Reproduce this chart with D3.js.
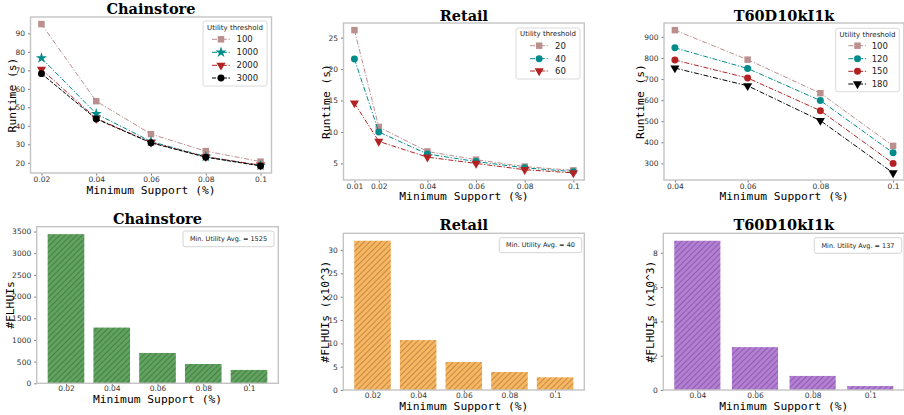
<!DOCTYPE html>
<html>
<head>
<meta charset="utf-8">
<script src="https://cdn.jsdelivr.net/npm/d3@7"></script>
<style>
  body { margin: 0; background: #fff; }
  svg { display: block; }
  .tick text { font-family: "DejaVu Sans"; font-size: 7.5px; fill: #333; }
  .tick line { stroke: #555; stroke-width: 0.8; }
  .title { font-family: "DejaVu Serif"; font-weight: bold; font-size: 14.5px; fill: #000; }
  .axlab { font-family: "DejaVu Sans Mono"; font-size: 11.3px; fill: #000; }
  .legtitle { font-family: "DejaVu Sans"; font-size: 7px; fill: #222; }
  .legtext { font-family: "DejaVu Sans"; font-size: 8.5px; fill: #222; }
  .bartext { font-family: "DejaVu Sans"; font-size: 6.5px; fill: #222; }
</style>
</head>
<body>
<svg id="chart" width="904" height="415"></svg>
<script>
// ---- data ----
// runtime (s) vs minimum support (%)
var chainSupport = [0.02, 0.04, 0.06, 0.08, 0.1];
var chainThresholds = ["100", "1000", "2000", "3000"];
var chainRuntime100 = [95.0, 53.3, 35.5, 26.3, 20.6];
var chainRuntime1000 = [76.6, 46.5, 31.5, 23.3, 18.5];
var chainRuntime2000 = [70.5, 44.0, 31.0, 23.2, 18.7];
var chainRuntime3000 = [68.2, 43.7, 30.8, 23.0, 18.3];

var retailSupport = [0.01, 0.02, 0.04, 0.06, 0.08, 0.1];
var retailThresholds = ["20", "40", "60"];
var retailRuntime20 = [26.2, 10.8, 6.9, 5.6, 4.5, 3.9];
var retailRuntime40 = [21.6, 10.0, 6.5, 5.3, 4.3, 3.7];
var retailRuntime60 = [14.6, 8.5, 6.0, 5.0, 4.0, 3.5];

var tSupport = [0.04, 0.06, 0.08, 0.1];
var tThresholds = ["100", "120", "150", "180"];
var tRuntime100 = [932, 792, 633, 383];
var tRuntime120 = [848, 750, 598, 350];
var tRuntime150 = [790, 705, 550, 300];
var tRuntime180 = [752, 668, 503, 255];

// #FLHUIs per minimum support
var chainBarLabels = ["0.02", "0.04", "0.06", "0.08", "0.1"];
var chainFlhuis = [3440, 1285, 700, 445, 308];
var retailBarLabels = ["0.02", "0.04", "0.06", "0.08", "0.1"];
var retailFlhuis = [32.0, 10.7, 6.0, 3.86, 2.72];
var tBarLabels = ["0.04", "0.06", "0.08", "0.1"];
var tFlhuis = [8.7, 2.5, 0.82, 0.23];

var chainYTicks = [20, 30, 40, 50, 60, 70, 80, 90];
var retailYTicks = [5, 10, 15, 20, 25];
var tYTicks = [300, 400, 500, 600, 700, 800, 900];
var chainBarTicks = [0, 500, 1000, 1500, 2000, 2500, 3000, 3500];
var retailBarTicks = [0, 5, 10, 15, 20, 25, 30];
var tBarTicks = [0, 2, 4, 6, 8];

// ---- styles ----
var ROSY = "#bc8f8f", TEAL = "#008b8b", RED = "#b22222", BLACK = "#000000";
var DASHDOT = "5,1.8,1.2,1.8";

var svg = d3.select("#chart");

var defs = svg.append("defs");
function hatch(id) {
  var p = defs.append("pattern")
    .attr("id", id)
    .attr("patternUnits", "userSpaceOnUse")
    .attr("width", 4).attr("height", 4)
    .attr("patternTransform", "rotate(45)");
  p.append("line")
    .attr("x1", 0).attr("y1", 0).attr("x2", 0).attr("y2", 4)
    .attr("stroke", "rgba(0,0,0,0.62)")
    .attr("stroke-width", 0.75);
}
hatch("hatch");

function padDomain(vals) {
  var ext = d3.extent(vals);
  var m = (ext[1] - ext[0]) * 0.05;
  return [ext[0] - m, ext[1] + m];
}

function symbolFor(name) {
  return {
    square: d3.symbol().type(d3.symbolSquare).size(42),
    star: d3.symbol().type(d3.symbolStar).size(38),
    circle: d3.symbol().type(d3.symbolCircle).size(38),
    tri: d3.symbol().type(d3.symbolTriangle).size(36)
  }[name];
}

function drawMarker(g, name, color, x, y) {
  g.append("path")
    .attr("d", symbolFor(name)())
    .attr("fill", color)
    .attr("transform", "translate(" + x + "," + y + ")" + (name == "tri" ? " rotate(180)" : ""));
}

function frame(g, box) {
  g.append("rect")
    .attr("x", box.l).attr("y", box.t)
    .attr("width", box.r - box.l).attr("height", box.b - box.t)
    .attr("fill", "none")
    .attr("stroke", "#c4c4c4")
    .attr("stroke-width", 1.4);
}

function labels(g, box, cfg) {
  var cx = (box.l + box.r) / 2;
  g.append("text").attr("class", "title")
    .attr("x", cx).attr("y", cfg.titleY)
    .attr("text-anchor", "middle").text(cfg.title);
  g.append("text").attr("class", "axlab")
    .attr("x", cx).attr("y", cfg.xTitleY)
    .attr("text-anchor", "middle").text("Minimum Support (%)");
  g.append("text").attr("class", "axlab")
    .attr("transform", "translate(" + cfg.yLabelX + "," + (box.t + box.b) / 2 + ") rotate(-90)")
    .attr("text-anchor", "middle").text(cfg.yLabel);
}

function styleAxis(sel) {
  sel.select(".domain").remove();
}

// ---- line chart ----
function drawLine(cfg) {
  var box = cfg.box;
  var g = svg.append("g");

  var allY = [];
  cfg.series.forEach(function(s) { allY = allY.concat(s.values); });

  var x = d3.scaleLinear().domain(padDomain(cfg.support)).range([box.l, box.r]);
  var y = d3.scaleLinear().domain(padDomain(allY)).range([box.b, box.t]);

  g.append("g").attr("transform", "translate(0," + box.b + ")")
    .call(d3.axisBottom(x).tickValues(cfg.xTicks).tickFormat(d3.format("")).tickSize(2.5).tickPadding(1))
    .call(styleAxis);
  g.append("g").attr("transform", "translate(" + box.l + ",0)")
    .call(d3.axisLeft(y).tickValues(cfg.yTicks).tickFormat(d3.format("d")).tickSize(2.5).tickPadding(3))
    .call(styleAxis);

  var line = d3.line()
    .x(function(d) { return x(d[0]); })
    .y(function(d) { return y(d[1]); });

  cfg.series.forEach(function(s) {
    var pts = cfg.support.map(function(v, i) { return [v, s.values[i]]; });
    g.append("path")
      .attr("d", line(pts))
      .attr("fill", "none")
      .attr("stroke", s.color)
      .attr("stroke-width", 1)
      .attr("stroke-dasharray", s.dash || DASHDOT);
    pts.forEach(function(p) { drawMarker(g, s.marker, s.color, x(p[0]), y(p[1])); });
  });

  frame(g, box);
  labels(g, box, cfg);

  // legend
  var L = cfg.legend;
  g.append("rect")
    .attr("x", L.x0).attr("y", L.y0)
    .attr("width", L.x1 - L.x0).attr("height", L.y1 - L.y0)
    .attr("rx", 2)
    .attr("fill", "rgba(255,255,255,0.85)")
    .attr("stroke", "#d0d0d0").attr("stroke-width", 0.8);
  g.append("text").attr("class", "legtitle")
    .attr("x", (L.x0 + L.x1) / 2).attr("y", L.titleY)
    .attr("text-anchor", "middle").text("Utility threshold");
  cfg.series.forEach(function(s, i) {
    var yy = L.rows[i];
    g.append("line")
      .attr("x1", L.lx0).attr("x2", L.lx1).attr("y1", yy).attr("y2", yy)
      .attr("stroke", s.color).attr("stroke-width", 1)
      .attr("stroke-dasharray", s.dash || DASHDOT);
    drawMarker(g, s.marker, s.color, (L.lx0 + L.lx1) / 2, yy);
    g.append("text").attr("class", "legtext")
      .attr("x", L.tx).attr("y", yy).attr("dy", "0.35em").text(s.name);
  });
}

// ---- bar chart ----
function drawBar(cfg) {
  var box = cfg.box;
  var g = svg.append("g");
  var n = cfg.cats.length;

  // categorical positions 0..n-1, bar width 0.8, 5% margins like matplotlib
  var x = d3.scaleLinear().domain(padDomain([-0.4, n - 1 + 0.4])).range([box.l, box.r]);
  var y = d3.scaleLinear().domain([0, d3.max(cfg.values) * 1.05]).range([box.b, box.t]);

  g.append("g").attr("transform", "translate(0," + box.b + ")")
    .call(d3.axisBottom(x).tickValues(d3.range(n)).tickFormat(function(i) { return cfg.cats[i]; })
      .tickSize(2.5).tickPadding(0))
    .call(styleAxis);
  g.append("g").attr("transform", "translate(" + box.l + ",0)")
    .call(d3.axisLeft(y).tickValues(cfg.yTicks).tickFormat(d3.format("d")).tickSize(2.5).tickPadding(3))
    .call(styleAxis);

  var bars = g.selectAll("g.bar").data(cfg.values).enter().append("g").attr("class", "bar");
  bars.append("rect")
    .attr("x", function(d, i) { return x(i - 0.4); })
    .attr("width", function(d, i) { return x(i + 0.4) - x(i - 0.4); })
    .attr("y", function(d) { return y(d); })
    .attr("height", function(d) { return y(0) - y(d); })
    .attr("fill", cfg.color);
  bars.append("rect")
    .attr("x", function(d, i) { return x(i - 0.4); })
    .attr("width", function(d, i) { return x(i + 0.4) - x(i - 0.4); })
    .attr("y", function(d) { return y(d); })
    .attr("height", function(d) { return y(0) - y(d); })
    .attr("fill", "url(#hatch)");

  frame(g, box);
  labels(g, box, cfg);

  var L = cfg.legend;
  g.append("rect")
    .attr("x", L.x0).attr("y", L.y0)
    .attr("width", L.x1 - L.x0).attr("height", L.y1 - L.y0)
    .attr("rx", 2)
    .attr("fill", "rgba(255,255,255,0.85)")
    .attr("stroke", "#c8c8c8").attr("stroke-width", 0.8);
  g.append("text").attr("class", "bartext")
    .attr("x", (L.x0 + L.x1) / 2).attr("y", (L.y0 + L.y1) / 2).attr("dy", "0.35em")
    .attr("text-anchor", "middle").text(L.text);
}

// ---- top row ----
drawLine({
  title: "Chainstore", titleY: 14, xTitleY: 194, yLabelX: 16, yLabel: "Runtime (s)",
  box: { l: 30.5, r: 271.5, t: 17, b: 173 },
  support: chainSupport, xTicks: chainSupport, yTicks: chainYTicks,
  series: [
    { name: chainThresholds[0], values: chainRuntime100, color: ROSY, marker: "square" },
    { name: chainThresholds[1], values: chainRuntime1000, color: TEAL, marker: "star" },
    { name: chainThresholds[2], values: chainRuntime2000, color: RED, marker: "tri" },
    { name: chainThresholds[3], values: chainRuntime3000, color: BLACK, marker: "circle", dash: "4,1.5" }
  ],
  legend: { x0: 203, y0: 21, x1: 267, y1: 86, titleY: 29.5, rows: [39.3, 52.3, 65.3, 78],
            lx0: 212, lx1: 230, tx: 236.5 }
});

drawLine({
  title: "Retail", titleY: 20.5, xTitleY: 200, yLabelX: 330, yLabel: "Runtime (s)",
  box: { l: 343.5, r: 584.3, t: 23, b: 180 },
  support: retailSupport, xTicks: retailSupport, yTicks: retailYTicks,
  series: [
    { name: retailThresholds[0], values: retailRuntime20, color: ROSY, marker: "square" },
    { name: retailThresholds[1], values: retailRuntime40, color: TEAL, marker: "circle" },
    { name: retailThresholds[2], values: retailRuntime60, color: RED, marker: "tri" }
  ],
  legend: { x0: 516, y0: 28, x1: 580, y1: 79, titleY: 36, rows: [45.7, 58.7, 71],
            lx0: 530, lx1: 548.3, tx: 555 }
});

drawLine({
  title: "T60D10kI1k", titleY: 20.5, xTitleY: 200, yLabelX: 644, yLabel: "Runtime (s)",
  box: { l: 664, r: 904, t: 23, b: 180 },
  support: tSupport, xTicks: tSupport, yTicks: tYTicks,
  series: [
    { name: tThresholds[0], values: tRuntime100, color: ROSY, marker: "square" },
    { name: tThresholds[1], values: tRuntime120, color: TEAL, marker: "circle" },
    { name: tThresholds[2], values: tRuntime150, color: RED, marker: "circle" },
    { name: tThresholds[3], values: tRuntime180, color: BLACK, marker: "tri" }
  ],
  legend: { x0: 835.7, y0: 28.3, x1: 899.3, y1: 91.7, titleY: 36.5, rows: [45.7, 58.7, 71.3, 84],
            lx0: 848.3, lx1: 866.7, tx: 871.7 }
});

// ---- bottom row ----
drawBar({
  title: "Chainstore", titleY: 223.5, xTitleY: 403, yLabelX: 14, yLabel: "#FLHUIs",
  box: { l: 36.7, r: 278.3, t: 226.7, b: 383.3 },
  cats: chainBarLabels, values: chainFlhuis, yTicks: chainBarTicks, color: "#5fa35f",
  legend: { x0: 183, y0: 231, x1: 274, y1: 246.7, text: "Min. Utility Avg. = 1525" }
});

drawBar({
  title: "Retail", titleY: 230, xTitleY: 410, yLabelX: 329, yLabel: "#FLHUIs (x10^3)",
  box: { l: 343.3, r: 584.3, t: 233.3, b: 390 },
  cats: retailBarLabels, values: retailFlhuis, yTicks: retailBarTicks, color: "#f9b660",
  legend: { x0: 499.3, y0: 237.7, x1: 581.7, y1: 252.7, text: "Min. Utility Avg. = 40" }
});

drawBar({
  title: "T60D10kI1k", titleY: 230, xTitleY: 410, yLabelX: 654, yLabel: "#FLHUIs (x10^3)",
  box: { l: 663.3, r: 904.3, t: 233.3, b: 390 },
  cats: tBarLabels, values: tFlhuis, yTicks: tBarTicks, color: "#b47dd6",
  legend: { x0: 814.3, y0: 237.7, x1: 901.7, y1: 253.3, text: "Min. Utility Avg. = 137" }
});
</script>
</body>
</html>
